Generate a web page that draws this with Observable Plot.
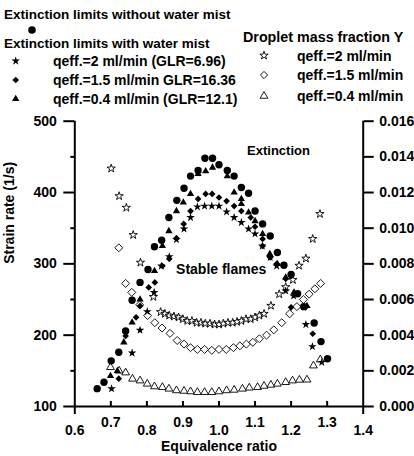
<!DOCTYPE html>
<html><head><meta charset="utf-8">
<script src="https://cdn.jsdelivr.net/npm/d3@7"></script>
<script src="https://cdn.jsdelivr.net/npm/@observablehq/plot@0.6"></script>
<style>
body{margin:0;background:#fff;}
#chart{width:414px;height:456px;background:#fff;}
svg{display:block;}
</style></head><body><div id="chart"></div>
<script>
// ---- Extinction limits without water mist (filled circles), strain rate 1/s
const noMistPhi  = [0.662,0.681,0.701,0.722,0.741,0.759,0.781,0.803,0.821,0.841,0.861,0.883,0.903,0.921,0.942,0.961,0.982,1.000,1.023,1.042,1.062,1.082,1.100,1.121,1.142,1.162,1.180,1.200,1.218,1.235,1.264,1.283,1.301];
const noMistRate = [125,134,164,176,206,249,274,292,324,333,365,389,406,423,431,448,448,439,431,423,407,399,374,356,339,316,298,285,258,240,217,191,167];
// ---- Extinction limits with water mist
const q2Phi   = [0.702,0.759,0.781,0.801,0.820,0.840,0.862,0.882,0.903,0.921,0.940,0.960,0.980,1.000,1.021,1.042,1.062,1.082,1.100,1.120,1.142,1.160,1.185,1.207,1.241,1.259,1.285];
const q2Rate  = [125,175,207,233,260,297,310,334,349,365,380,381,381,381,373,365,358,349,342,325,309,297,262,255,215,184,162];
const q15Phi  = [0.722,0.741,0.770,0.781,0.805,0.822,0.843,0.862,0.882,0.902,0.921,0.942,0.963,0.981,1.000,1.021,1.042,1.062,1.088,1.100,1.121,1.121,1.142,1.160,1.185,1.200,1.240,1.260];
const q15Rate = [139,199,225,241,267,274,297,307,336,356,374,391,398,398,393,388,381,374,365,352,335,325,309,300,279,239,239,202];
const q04Phi  = [0.699,0.718,0.736,0.759,0.781,0.821,0.843,0.861,0.882,0.901,0.921,0.942,0.963,0.982,1.023,1.042,1.062,1.062,1.082,1.100,1.121,1.141,1.162,1.185,1.208,1.244];
const q04Rate = [143,150,190,218,250,290,325,346,374,386,398,426,430,435,423,400,391,384,372,360,342,314,300,281,260,241];
// ---- Droplet mass fraction Y (right axis)
const yStarPhi = [0.701,0.723,0.743,0.762,0.782,0.818,0.838,0.850,0.862,0.875,0.888,0.900,0.912,0.925,0.938,0.950,0.962,0.975,0.988,1.000,1.012,1.025,1.038,1.050,1.062,1.075,1.088,1.100,1.112,1.125,1.144,1.167,1.185,1.205,1.222,1.241,1.260,1.280];
const yStarVal = [0.01335,0.0118,0.01115,0.00962,0.00807,0.00615,0.0053,0.0052,0.0051,0.00505,0.0050,0.0049,0.0048,0.0048,0.0047,0.0047,0.00465,0.00465,0.0046,0.0046,0.00465,0.0047,0.0047,0.00475,0.0048,0.0049,0.0049,0.0050,0.0051,0.0052,0.00565,0.0063,0.0067,0.0071,0.0079,0.0083,0.0094,0.0108];
const yDiaPhi = [0.722,0.741,0.758,0.780,0.802,0.822,0.842,0.864,0.884,0.903,0.921,0.940,0.960,0.980,1.000,1.020,1.040,1.058,1.076,1.094,1.112,1.132,1.152,1.174,1.196,1.216,1.234,1.250,1.266,1.282];
const yDiaVal = [0.0089,0.0069,0.0064,0.0057,0.0051,0.0047,0.0044,0.0041,0.0037,0.0035,0.0033,0.0032,0.0032,0.00315,0.0032,0.0032,0.0033,0.0034,0.0035,0.0036,0.0038,0.0040,0.0043,0.0047,0.0052,0.0056,0.0060,0.0063,0.0066,0.0069];
const yTriPhi = [0.699,0.723,0.741,0.760,0.781,0.801,0.821,0.843,0.861,0.882,0.903,0.921,0.940,0.960,0.980,1.000,1.021,1.042,1.065,1.084,1.107,1.125,1.144,1.162,1.185,1.204,1.223,1.244,1.262,1.281];
const yTriVal = [0.0022,0.0020,0.0019,0.00155,0.00145,0.00127,0.00112,0.00108,0.00099,0.0009,0.00087,0.00084,0.0008,0.0008,0.0008,0.00084,0.0009,0.00093,0.00099,0.00105,0.00108,0.00115,0.00121,0.00127,0.00136,0.00145,0.00149,0.0015,0.00229,0.00263];
// ---- axes
const xTickVals     = [0.6,0.7,0.8,0.9,1.0,1.1,1.2,1.3,1.4];
const leftTicks     = [100,200,300,400,500];
const leftMinor     = [150,250,350,450];
const rightTicks    = [0,0.002,0.004,0.006,0.008,0.010,0.012,0.014,0.016];
const xTitle = "Equivalence ratio";
const yTitle = "Strain rate (1/s)";
const annotations = [
  {text: "Extinction", phi: 1.165, rate: 458, size: 13},
  {text: "Stable flames", phi: 1.006, rate: 292, size: 14}
];
const leftLegendHeaders = ["Extinction limits without water mist", "Extinction limits with water mist"];
const leftLegendLabels  = ["qeff.=2 ml/min (GLR=6.96)", "qeff.=1.5 ml/min GLR=16.36", "qeff.=0.4 ml/min (GLR=12.1)"];
const rightLegendHeader = "Droplet mass fraction Y";
const rightLegendLabels = ["qeff.=2 ml/min", "qeff.=1.5 ml/min", "qeff.=0.4 ml/min"];

// right axis (0..0.016) shares the frame with left axis (100..500)
const toLeft = v => 100 + v * 25000;
const fromLeft = d => (d - 100) / 25000;
const pts = (xs, ys, f = d => d) => xs.map((x, i) => ({x, y: f(ys[i])}));

const FONT = "'Liberation Sans', Arial, Helvetica, sans-serif";
// symbol radii (Plot: size = pi r^2)
const R = {circle: 3.7, starF: 2.7, diaF: 3.0, triF: 2.7, starO: 2.6, diaO: 3.6, triO: 2.9};

// ---- legend (SVG above the plot)
const legend = d3.create("svg").attr("width", 414).attr("height", 112)
  .style("font-family", FONT).style("font-weight", "bold");
const sym = (type, r) => d3.symbol(type, Math.PI * r * r)();
legend.append("text").attr("x", 4).attr("y", 19).style("font-size", "13.5px").text(leftLegendHeaders[0]);
legend.append("circle").attr("cx", 32).attr("cy", 30).attr("r", 3.8).attr("fill", "black");
legend.append("text").attr("x", 4).attr("y", 48).style("font-size", "13.5px").text(leftLegendHeaders[1]);
const lSyms = [[d3.symbolStar, R.starF], [d3.symbolDiamond2, R.diaF], [d3.symbolTriangle, R.triF]];
leftLegendLabels.forEach((t, i) => {
  const cy = 61 + i * 19;
  legend.append("path").attr("d", sym(lSyms[i][0], lSyms[i][1])).attr("transform", `translate(15.7,${cy})`).attr("fill", "black");
  legend.append("text").attr("x", 53).attr("y", cy + 4.5).style("font-size", "14px").text(t);
});
legend.append("text").attr("x", 243).attr("y", 42).style("font-size", "14.3px").text(rightLegendHeader);
const rSyms = [[d3.symbolStar, R.starO], [d3.symbolDiamond2, R.diaO * 0.9], [d3.symbolTriangle, R.triO]];
const rY = [55.5, 75, 96];
rightLegendLabels.forEach((t, i) => {
  legend.append("path").attr("d", sym(rSyms[i][0], rSyms[i][1])).attr("transform", `translate(264,${rY[i]})`)
    .attr("fill", "white").attr("stroke", "black").attr("stroke-width", 0.9);
  legend.append("text").attr("x", 297).attr("y", rY[i] + 5).style("font-size", "14px").text(t);
});

// ---- plot
const AX = {stroke: "black", strokeWidth: 2};
const openStyle = {fill: "white", stroke: "black", strokeWidth: 0.9};
const plot = Plot.plot({
  width: 414, height: 344,
  marginTop: 8.7, marginBottom: 50, marginLeft: 74.3, marginRight: 51.3,
  style: {fontFamily: FONT, fontSize: "14px", fontWeight: "bold", background: "white", color: "black", overflow: "visible"},
  x: {domain: [0.6, 1.4]},
  y: {domain: [100, 500]},
  marks: [
    // axis lines (left, right, bottom)
    Plot.ruleX([0.6, 1.4], AX),
    Plot.ruleY([100], AX),
    // left axis
    Plot.axisY({ticks: leftTicks, tickSize: 11, tickPadding: 7, tickFormat: d => d, label: null, ...AX}),
    Plot.axisY({ticks: leftMinor, tickSize: 4, tickFormat: () => "", label: null, ...AX}),
    // right axis
    Plot.axisY({anchor: "right", ticks: rightTicks.map(toLeft), tickSize: 10, tickPadding: 6,
      tickFormat: d => fromLeft(d).toFixed(3), label: null, ...AX}),
    // x axis: inward ticks, vertical axes extend below, staggered labels
    Plot.axisX({ticks: xTickVals.slice(1, -1), tickSize: -5, tickFormat: () => "", label: null, ...AX}),
    Plot.axisX({ticks: [xTickVals[0], xTickVals[xTickVals.length - 1]], tickSize: 8, tickFormat: () => "", label: null, ...AX}),
    Plot.axisX({ticks: xTickVals.filter((d, i) => i % 2 === 0), tickSize: 0, tickPadding: 19, tickFormat: d => d.toFixed(1), label: null}),
    Plot.axisX({ticks: xTickVals.filter((d, i) => i % 2 === 1), tickSize: 0, tickPadding: 11, tickFormat: d => d.toFixed(1), label: null}),
    // axis titles
    Plot.text([yTitle], {text: d => d, frameAnchor: "left", dx: -65, rotate: -90, fontSize: 14}),
    Plot.text([xTitle], {text: d => d, frameAnchor: "bottom", dy: 44, fontSize: 14}),
    // droplet mass fraction (open symbols)
    Plot.dot(pts(yStarPhi, yStarVal, toLeft), {x: "x", y: "y", symbol: "star", r: R.starO, ...openStyle}),
    Plot.dot(pts(yDiaPhi, yDiaVal, toLeft), {x: "x", y: "y", symbol: "diamond2", r: R.diaO, ...openStyle}),
    Plot.dot(pts(yTriPhi, yTriVal, toLeft), {x: "x", y: "y", symbol: "triangle", r: R.triO, ...openStyle}),
    // extinction limits (filled symbols)
    Plot.dot(pts(q04Phi, q04Rate), {x: "x", y: "y", symbol: "triangle", r: R.triF, fill: "black"}),
    Plot.dot(pts(q15Phi, q15Rate), {x: "x", y: "y", symbol: "diamond2", r: R.diaF, fill: "black"}),
    Plot.dot(pts(q2Phi, q2Rate), {x: "x", y: "y", symbol: "star", r: R.starF, fill: "black"}),
    Plot.dot(pts(noMistPhi, noMistRate), {x: "x", y: "y", symbol: "circle", r: R.circle, fill: "black"}),
    // annotations
    Plot.text(annotations, {x: "phi", y: "rate", text: "text", fontSize: d => d.size})
  ]
});

const root = document.getElementById("chart");
root.appendChild(legend.node());
root.appendChild(plot);
</script></body></html>
